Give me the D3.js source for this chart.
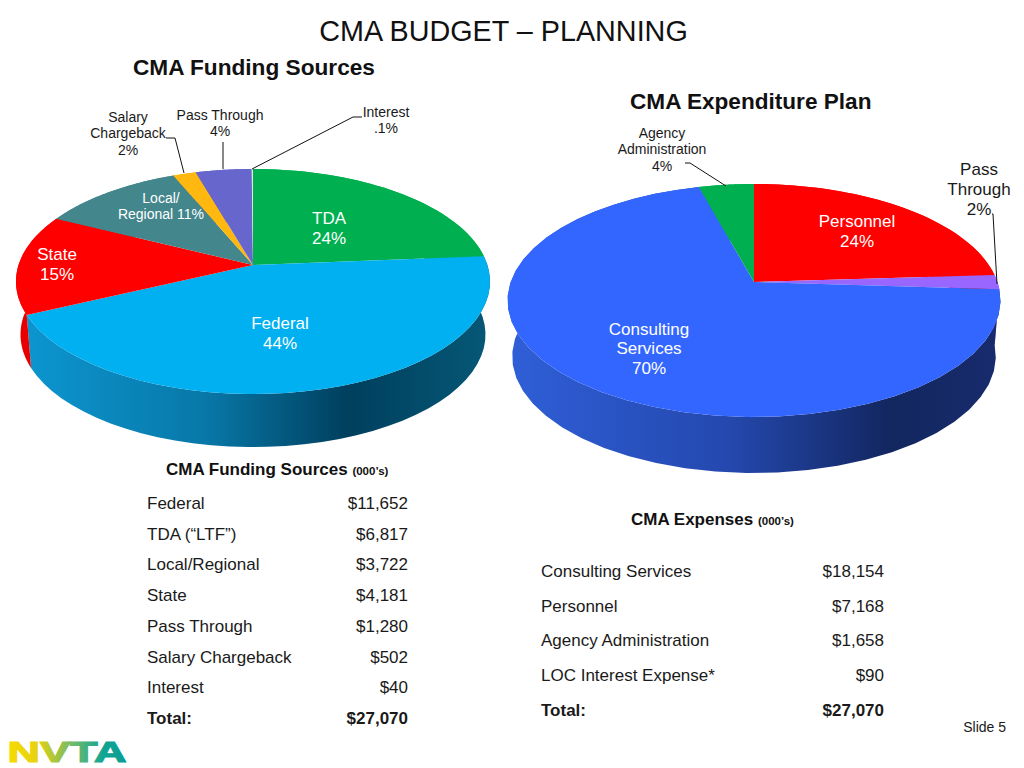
<!DOCTYPE html>
<html>
<head>
<meta charset="utf-8">
<script src="https://cdn.jsdelivr.net/npm/d3@7"></script>
<style>
  html, body { margin: 0; padding: 0; background: #fff; }
  svg { display: block; font-family: "Liberation Sans", Arial, sans-serif; }
</style>
</head>
<body>
<div id="chart"></div>
<script>
// slice shares in percent
const fundingNames = ["TDA", "Federal", "State", "Local/Regional", "Salary Chargeback", "Pass Through", "Interest"];
const fundingShares = [23.7, 44.3, 14.4, 11.3, 1.8, 4.4, 0.1];
const fundingColors = ["#00b050", "#00b0f0", "#ff0000", "#43868c", "#ffb810", "#6666cc", "#e6e6e6"];

const expenseNames = ["Personnel", "Pass Through", "Consulting Services", "Agency Administration"];
const expenseShares = [24, 2, 69.8, 4.2];
const expenseColors = ["#ff0000", "#9966ff", "#3366ff", "#00b050"];

// tables under the pies
const fundingRows = ["Federal", "TDA (\u201CLTF\u201D)", "Local/Regional", "State", "Pass Through", "Salary Chargeback", "Interest", "Total:"];
const fundingAmounts = ["$11,652", "$6,817", "$3,722", "$4,181", "$1,280", "$502", "$40", "$27,070"];
const expenseRows = ["Consulting Services", "Personnel", "Agency Administration", "LOC Interest Expense*", "Total:"];
const expenseAmounts = ["$18,154", "$7,168", "$1,658", "$90", "$27,070"];

const svg = d3.select("#chart").append("svg")
    .attr("width", 1024)
    .attr("height", 768);
const defs = svg.append("defs");

// perspective disc: cy is the apex, top/bottom are the rim extremes on screen
function makeProjection(cx, cy, halfWidth, top, bottom) {
    let up = cy - top, down = bottom - cy;
    let c = (up - down) / (up + down);
    let a = up * (1 - c);
    let A = halfWidth * Math.sqrt(1 - c * c);
    return angle => {
        let u = Math.sin(angle), v = -Math.cos(angle);
        let w = 1 + c * v;
        return [cx + A * u / w, cy + a * v / w];
    };
}

function wallGradient(id, stops, x1, x2) {
    let g = defs.append("linearGradient")
        .attr("id", id)
        .attr("gradientUnits", "userSpaceOnUse")
        .attr("x1", x1).attr("x2", x2).attr("y1", 0).attr("y2", 0);
    stops.forEach(s => g.append("stop").attr("offset", s[0]).attr("stop-color", s[1]));
}

function drawPie(opts) {
    let project = makeProjection(opts.cx, opts.cy, opts.halfWidth, opts.top, opts.bottom);
    let pie = d3.pie().sort(null).value(d => d)(opts.values);
    let line = d3.line();
    let g = svg.append("g");

    let rim = d => d3.range(0, 41).map(i => d.startAngle + (d.endAngle - d.startAngle) * i / 40);

    // side wall first, the top covers whatever faces away
    g.selectAll(".wall")
        .data(pie)
        .enter()
        .append("path")
        .attr("class", "wall")
        .attr("fill", (d, i) => opts.walls[i])
        .attr("d", d => {
            let upper = rim(d).map(project);
            let lower = upper.map(p => [opts.cx + (p[0] - opts.cx) * opts.shrink, p[1] + opts.depth]).reverse();
            return line(upper.concat(lower)) + "Z";
        });

    g.selectAll(".slice")
        .data(pie)
        .enter()
        .append("path")
        .attr("class", "slice")
        .attr("fill", (d, i) => opts.colors[i])
        .attr("d", d => line([[opts.cx, opts.cy]].concat(rim(d).map(project))) + "Z");
}

wallGradient("wallFederal", [[0, "#0c97d2"], [0.4, "#0878a8"], [0.7, "#003f5e"], [1, "#055876"]], 16, 490);
wallGradient("wallConsulting", [[0, "#2f5fd8"], [0.45, "#2448ae"], [0.78, "#12265f"], [1, "#182c6e"]], 507, 1000);

drawPie({
    cx: 253, cy: 265, halfWidth: 237, top: 169, bottom: 394, depth: 53, shrink: 0.981,
    values: fundingShares,
    colors: fundingColors,
    walls: ["#00b050", "url(#wallFederal)", "#e80000", "#43868c", "#ffb810", "#6666cc", "#e6e6e6"]
});
drawPie({
    cx: 754, cy: 282, halfWidth: 246.5, top: 184, bottom: 417, depth: 56, shrink: 0.981,
    values: expenseShares,
    colors: expenseColors,
    walls: ["#ff0000", "#9966ff", "url(#wallConsulting)", "#00b050"]
});

// leader lines
const leaders = [
    [[166, 138], [175, 138], [184, 173]],
    [[223, 142], [223, 169]],
    [[362, 117], [353, 117], [252, 169]],
    [[685, 163], [690, 163], [726, 186]],
    [[992, 214], [993, 214], [997, 284]]
];
svg.selectAll(".leader")
    .data(leaders)
    .enter()
    .append("path")
    .attr("class", "leader")
    .attr("fill", "none")
    .attr("stroke", "#111")
    .attr("stroke-width", 1)
    .attr("d", d3.line());

// slice labels: lines of text, centre x, first line centre y, line step
const pieLabels = [
    {lines: ["Interest", ".1%"], x: 386, y: 112, step: 16, size: 14, color: "#1a1a1a"},
    {lines: ["Pass Through", "4%"], x: 220, y: 115, step: 16.5, size: 14, color: "#1a1a1a"},
    {lines: ["Salary", "Chargeback", "2%"], x: 128, y: 117, step: 16.5, size: 14, color: "#1a1a1a"},
    {lines: ["Local/", "Regional 11%"], x: 161, y: 198, step: 16.5, size: 14, color: "#fff"},
    {lines: ["TDA", "24%"], x: 329, y: 218, step: 20, size: 17, color: "#fff"},
    {lines: ["State", "15%"], x: 57, y: 254, step: 20, size: 17, color: "#fff"},
    {lines: ["Federal", "44%"], x: 280, y: 323, step: 20, size: 17, color: "#fff"},
    {lines: ["Agency", "Administration", "4%"], x: 662, y: 133, step: 16.5, size: 14, color: "#1a1a1a"},
    {lines: ["Pass", "Through", "2%"], x: 979, y: 169, step: 20, size: 17, color: "#1a1a1a"},
    {lines: ["Personnel", "24%"], x: 857, y: 221, step: 20, size: 17, color: "#fff"},
    {lines: ["Consulting", "Services", "70%"], x: 649, y: 329, step: 19.5, size: 17, color: "#fff"}
];
let labelSel = svg.selectAll(".pie-label")
    .data(pieLabels)
    .enter()
    .append("text")
    .attr("class", "pie-label")
    .attr("text-anchor", "middle")
    .attr("font-size", d => d.size)
    .attr("fill", d => d.color);
labelSel.selectAll("tspan")
    .data(d => d.lines.map((t, i) => ({t: t, x: d.x, y: d.y + i * d.step})))
    .enter()
    .append("tspan")
    .attr("x", d => d.x)
    .attr("y", d => d.y)
    .attr("dy", "0.35em")
    .text(d => d.t);

// headings
svg.append("text").attr("x", 503.5).attr("y", 41).attr("text-anchor", "middle")
    .attr("font-size", 28.75).attr("fill", "#111").text("CMA BUDGET \u2013 PLANNING");
svg.append("text").attr("x", 133).attr("y", 75)
    .attr("font-size", 22.65).attr("font-weight", "bold").attr("fill", "#111").text("CMA Funding Sources");
svg.append("text").attr("x", 630).attr("y", 109)
    .attr("font-size", 22.6).attr("font-weight", "bold").attr("fill", "#111").text("CMA Expenditure Plan");

function tableTitle(x, y, main) {
    let t = svg.append("text").attr("x", x).attr("y", y)
        .attr("font-weight", "bold").attr("font-size", 17).attr("fill", "#111");
    t.append("tspan").text(main + " ");
    t.append("tspan").attr("font-size", 11.5).text("(000\u2019s)");
}
tableTitle(166, 475, "CMA Funding Sources");
tableTitle(631, 525, "CMA Expenses");

function drawTable(rows, amounts, xLeft, xRight, y0, y1) {
    let y = d3.scalePoint().domain(rows).range([y0, y1]);
    let g = svg.append("g").attr("font-size", 17).attr("fill", "#1a1a1a");
    g.selectAll(".row-name")
        .data(rows)
        .enter()
        .append("text")
        .attr("class", "row-name")
        .attr("x", xLeft)
        .attr("y", d => y(d))
        .attr("dy", "0.35em")
        .attr("font-weight", d => d === "Total:" ? "bold" : null)
        .text(d => d);
    g.selectAll(".row-amount")
        .data(amounts)
        .enter()
        .append("text")
        .attr("class", "row-amount")
        .attr("x", xRight)
        .attr("y", (d, i) => y(rows[i]))
        .attr("dy", "0.35em")
        .attr("text-anchor", "end")
        .attr("font-weight", (d, i) => rows[i] === "Total:" ? "bold" : null)
        .text(d => d);
}
drawTable(fundingRows, fundingAmounts, 147, 408, 503, 718);
drawTable(expenseRows, expenseAmounts, 541, 884, 571, 710);

svg.append("text").attr("x", 1006).attr("y", 732).attr("text-anchor", "end")
    .attr("font-size", 14).attr("fill", "#1a1a1a").text("Slide 5");

// logo wordmark
let logoGrad = defs.append("linearGradient").attr("id", "logoGrad");
[[0, "#f7da00"], [0.25, "#e6d210"], [0.55, "#6fba6a"], [0.8, "#12a594"], [1, "#0a9d92"]]
    .forEach(s => logoGrad.append("stop").attr("offset", s[0]).attr("stop-color", s[1]));
svg.append("text").attr("x", 7.5).attr("y", 761.5)
    .attr("font-size", 29).attr("font-weight", "900")
    .attr("textLength", 119).attr("lengthAdjust", "spacingAndGlyphs")
    .attr("fill", "url(#logoGrad)").attr("stroke", "url(#logoGrad)").attr("stroke-width", 1.2)
    .text("NVTA");
</script>
</body>
</html>
